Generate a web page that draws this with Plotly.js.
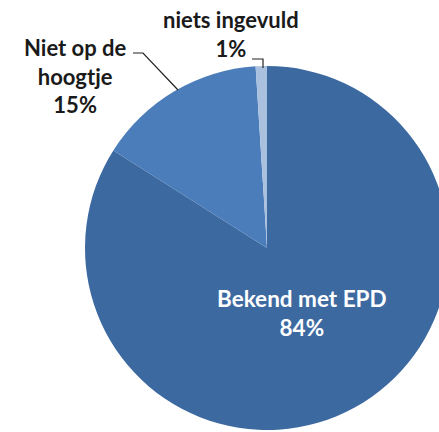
<!DOCTYPE html>
<html>
<head>
<meta charset="utf-8">
<script src="https://cdn.plot.ly/plotly-3.0.1.min.js"></script>
<style>
html,body{margin:0;padding:0;background:#fff;overflow:hidden;width:439px;height:432px;}
#chart{width:460px;height:450px;}
</style>
</head>
<body>
<div id="chart"></div>
<script>
// Data
var labels = ['Bekend met EPD', 'Niet op de<br>hoogtje', 'niets ingevuld'];
var values = [84, 15, 1];
var colors = ['#3D69A1', '#4A7DBA', '#A9C0DF'];

var W = 460, H = 450;
function px(x){ return x / W; }
function py(y){ return 1 - y / H; }

var trace = {
  type: 'pie',
  labels: labels,
  values: values,
  sort: false,
  direction: 'clockwise',
  rotation: 0,
  textinfo: 'none',
  hoverinfo: 'label+percent',
  marker: { colors: colors, line: { width: 0 } },
  domain: { x: [px(85), px(449)], y: [py(430), py(66)] },
  showlegend: false
};

function pct(i){ return values[i] + '%'; }

var outFont = { family: 'Lato, "Open Sans", sans-serif', size: 22, color: '#1a1a1a', weight: 'bold' };
var inFont = { family: 'Lato, "Open Sans", sans-serif', size: 22.5, color: '#ffffff', weight: 'bold' };

var annotations = [
  { text: labels[0] + '<br>' + pct(0), x: px(302), y: py(313), xref: 'paper', yref: 'paper',
    xanchor: 'center', yanchor: 'middle', showarrow: false, font: inFont, align: 'center' },
  { text: labels[1] + '<br>' + pct(1), x: px(75), y: py(76), xref: 'paper', yref: 'paper',
    xanchor: 'center', yanchor: 'middle', showarrow: false, font: outFont, align: 'center' },
  { text: labels[2] + '<br>' + pct(2), x: px(231), y: py(34), xref: 'paper', yref: 'paper',
    xanchor: 'center', yanchor: 'middle', showarrow: false, font: outFont, align: 'center' }
];

var shapes = [
  { type: 'path', xref: 'paper', yref: 'paper',
    path: 'M ' + px(133) + ' ' + py(53) + ' L ' + px(143) + ' ' + py(53) + ' L ' + px(178) + ' ' + py(90),
    line: { color: '#222', width: 1.2 } },
  { type: 'path', xref: 'paper', yref: 'paper',
    path: 'M ' + px(252) + ' ' + py(59) + ' L ' + px(263) + ' ' + py(59) + ' L ' + px(263) + ' ' + py(68),
    line: { color: '#222', width: 1.2 } }
];

var layout = {
  width: W, height: H,
  margin: { l: 0, r: 0, t: 0, b: 0 },
  paper_bgcolor: '#ffffff',
  plot_bgcolor: '#ffffff',
  annotations: annotations,
  shapes: shapes,
  showlegend: false
};

Plotly.newPlot('chart', [trace], layout, { displayModeBar: false, staticPlot: true });
</script>
</body>
</html>
